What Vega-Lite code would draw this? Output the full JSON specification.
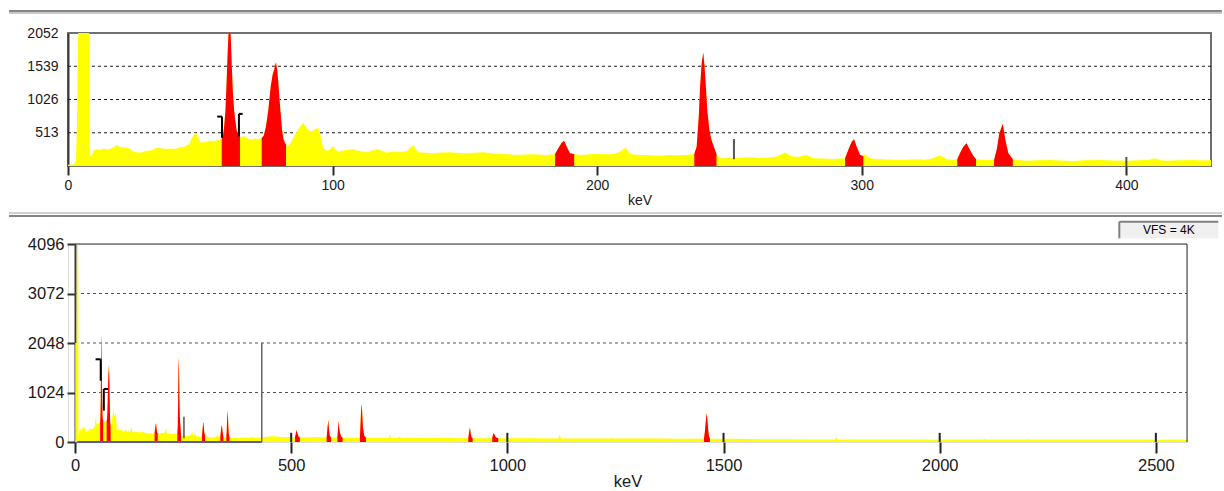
{
  "$schema": "https://vega.github.io/schema/vega-lite/v6.json",
  "padding": {"left": 6, "top": 8, "right": 0, "bottom": 0},
  "background": "#ffffff",
  "config": {
    "font": "Liberation Sans",
    "axis": {
      "labelFont": "Liberation Sans",
      "titleFont": "Liberation Sans",
      "titleFontWeight": "normal",
      "labelColor": "#1a1a1a",
      "titleColor": "#1a1a1a",
      "grid": false,
      "zindex": 1,
      "labelOverlap": false,
      "format": "d"
    }
  },
  "datasets": {
    "spectrum": [
      {"e":0,"c":20,"r":0},{"e":1,"c":22,"r":0},{"e":2,"c":25,"r":0},{"e":3,"c":60,"r":0},{"e":3.5,"c":900,"r":0},
      {"e":4,"c":2600,"r":0},{"e":4.5,"c":4600,"r":0},{"e":5.5,"c":4900,"r":0},{"e":6.5,"c":4500,"r":0},{"e":7.5,"c":3600,"r":0},
      {"e":8,"c":2700,"r":0},{"e":8.2,"c":150,"r":0},{"e":9,"c":165,"r":0},{"e":9.6,"c":240,"r":0},{"e":10.5,"c":255,"r":0},
      {"e":12.1,"c":250,"r":0},{"e":13.5,"c":270,"r":0},{"e":14.6,"c":255,"r":0},{"e":16,"c":265,"r":0},{"e":17.8,"c":300,"r":0},
      {"e":18.4,"c":330,"r":0},{"e":19,"c":300,"r":0},{"e":20.5,"c":290,"r":0},{"e":22.2,"c":285,"r":0},{"e":23.5,"c":262,"r":0},
      {"e":24.7,"c":225,"r":0},{"e":26,"c":212,"r":0},{"e":27.2,"c":205,"r":0},{"e":28.5,"c":220,"r":0},{"e":29.7,"c":235,"r":0},
      {"e":31,"c":240,"r":0},{"e":32.3,"c":250,"r":0},{"e":33.5,"c":285,"r":0},{"e":35,"c":275,"r":0},{"e":37.3,"c":262,"r":0},
      {"e":39,"c":270,"r":0},{"e":40.5,"c":262,"r":0},{"e":42.3,"c":290,"r":0},{"e":43.5,"c":295,"r":0},{"e":44.9,"c":315,"r":0},
      {"e":46,"c":340,"r":0},{"e":46.7,"c":420,"r":0},{"e":48,"c":520,"r":0},{"e":49.3,"c":430,"r":0},{"e":50.2,"c":355,"r":0},
      {"e":51.1,"c":370,"r":0},{"e":52.5,"c":375,"r":0},{"e":53.7,"c":395,"r":0},{"e":55,"c":380,"r":0},{"e":56.5,"c":400,"r":0},
      {"e":57.3,"c":395,"r":0},
      {"e":58.1,"c":420,"r":1},{"e":58.6,"c":470,"r":1},{"e":59,"c":600,"r":1},{"e":59.5,"c":850,"r":1},{"e":59.9,"c":1250,"r":1},
      {"e":60.3,"c":1700,"r":1},{"e":60.7,"c":2080,"r":1},{"e":61.1,"c":2230,"r":1},{"e":61.5,"c":2000,"r":1},{"e":61.9,"c":1550,"r":1},
      {"e":62.3,"c":1150,"r":1},{"e":62.8,"c":850,"r":1},{"e":63.3,"c":680,"r":1},{"e":63.8,"c":540,"r":1},{"e":64.4,"c":480,"r":1},
      {"e":65,"c":450,"r":1},
      {"e":65.6,"c":440,"r":0},{"e":66.5,"c":465,"r":0},{"e":67.5,"c":430,"r":0},{"e":69,"c":410,"r":0},{"e":70.5,"c":425,"r":0},
      {"e":72,"c":415,"r":0},{"e":72.7,"c":430,"r":0},
      {"e":73.2,"c":430,"r":2},{"e":74,"c":470,"r":2},{"e":74.8,"c":600,"r":2},{"e":75.7,"c":860,"r":2},{"e":76.6,"c":1220,"r":2},
      {"e":77.3,"c":1400,"r":2},{"e":78,"c":1500,"r":2},{"e":78.6,"c":1600,"r":2},{"e":79.1,"c":1480,"r":2},{"e":79.5,"c":1280,"r":2},
      {"e":80,"c":1000,"r":2},{"e":80.4,"c":800,"r":2},{"e":80.9,"c":560,"r":2},{"e":81.4,"c":420,"r":2},{"e":82,"c":360,"r":2},
      {"e":82.4,"c":330,"r":2},
      {"e":83,"c":300,"r":0},{"e":83.9,"c":340,"r":0},{"e":85,"c":420,"r":0},{"e":86,"c":500,"r":0},{"e":87.7,"c":607,"r":0},
      {"e":88.9,"c":668,"r":0},{"e":90.2,"c":581,"r":0},{"e":91.5,"c":530,"r":0},{"e":92.5,"c":545,"r":0},{"e":93.3,"c":566,"r":0},
      {"e":94.6,"c":591,"r":0},{"e":95.2,"c":504,"r":0},{"e":96.5,"c":273,"r":0},{"e":97.8,"c":236,"r":0},{"e":99,"c":250,"r":0},
      {"e":100.3,"c":313,"r":0},{"e":101,"c":260,"r":0},{"e":102.2,"c":221,"r":0},{"e":103.8,"c":240,"r":0},{"e":105.3,"c":247,"r":0},
      {"e":107.8,"c":262,"r":0},{"e":110,"c":230,"r":0},{"e":112.9,"c":211,"r":0},{"e":115,"c":240,"r":0},{"e":117.3,"c":257,"r":0},
      {"e":120.4,"c":206,"r":0},{"e":123,"c":225,"r":0},{"e":125.5,"c":211,"r":0},{"e":128,"c":230,"r":0},{"e":130.5,"c":324,"r":0},
      {"e":132.4,"c":211,"r":0},{"e":135,"c":205,"r":0},{"e":138.1,"c":195,"r":0},{"e":141,"c":210,"r":0},{"e":144.4,"c":211,"r":0},
      {"e":147.5,"c":200,"r":0},{"e":150.7,"c":195,"r":0},{"e":154,"c":205,"r":0},{"e":157,"c":211,"r":0},{"e":160,"c":195,"r":0},
      {"e":163.3,"c":185,"r":0},{"e":166.5,"c":180,"r":0},{"e":169.6,"c":170,"r":0},{"e":173,"c":178,"r":0},{"e":175.9,"c":180,"r":0},
      {"e":178.5,"c":172,"r":0},{"e":180.9,"c":170,"r":0},{"e":183,"c":178,"r":0},
      {"e":184.1,"c":185,"r":3},{"e":185.3,"c":273,"r":3},{"e":186.6,"c":360,"r":3},{"e":187.5,"c":389,"r":3},{"e":188.5,"c":298,"r":3},
      {"e":189.7,"c":195,"r":3},{"e":191.3,"c":185,"r":3},
      {"e":193.5,"c":170,"r":0},{"e":196,"c":178,"r":0},{"e":198.5,"c":185,"r":0},{"e":201,"c":185,"r":0},{"e":203.5,"c":180,"r":0},
      {"e":206.1,"c":185,"r":0},{"e":208.5,"c":215,"r":0},{"e":209.9,"c":257,"r":0},{"e":210.9,"c":283,"r":0},{"e":212.4,"c":185,"r":0},
      {"e":215,"c":175,"r":0},{"e":217.4,"c":170,"r":0},{"e":220.5,"c":165,"r":0},{"e":223.7,"c":160,"r":0},{"e":227,"c":168,"r":0},
      {"e":230,"c":165,"r":0},{"e":233,"c":170,"r":0},{"e":235.5,"c":178,"r":0},
      {"e":236.7,"c":185,"r":4},{"e":237.6,"c":298,"r":4},{"e":238.4,"c":761,"r":4},{"e":238.9,"c":1224,"r":4},{"e":239.5,"c":1584,"r":4},
      {"e":240.1,"c":1752,"r":4},{"e":240.6,"c":1532,"r":4},{"e":241.1,"c":1224,"r":4},{"e":241.6,"c":864,"r":4},{"e":242.4,"c":555,"r":4},
      {"e":243.2,"c":401,"r":4},{"e":244.1,"c":298,"r":4},{"e":245.1,"c":185,"r":4},
      {"e":246.4,"c":119,"r":0},{"e":249,"c":125,"r":0},{"e":251.4,"c":119,"r":0},{"e":254.5,"c":128,"r":0},{"e":257.7,"c":134,"r":0},
      {"e":261,"c":125,"r":0},{"e":264,"c":129,"r":0},{"e":267,"c":140,"r":0},{"e":269.1,"c":170,"r":0},{"e":271,"c":211,"r":0},
      {"e":272.9,"c":154,"r":0},{"e":276,"c":140,"r":0},{"e":279.2,"c":170,"r":0},{"e":281.7,"c":119,"r":0},{"e":285,"c":115,"r":0},
      {"e":289.3,"c":108,"r":0},{"e":292,"c":115,"r":0},
      {"e":293.7,"c":119,"r":5},{"e":294.9,"c":247,"r":5},{"e":296.2,"c":375,"r":5},{"e":297.1,"c":412,"r":5},{"e":298.1,"c":298,"r":5},
      {"e":299.4,"c":170,"r":5},{"e":300.6,"c":154,"r":5},
      {"e":301.2,"c":185,"r":0},{"e":303.1,"c":119,"r":0},{"e":305.5,"c":108,"r":0},{"e":308.2,"c":103,"r":0},{"e":311,"c":98,"r":0},
      {"e":314.5,"c":93,"r":0},{"e":317.5,"c":98,"r":0},{"e":320.8,"c":103,"r":0},{"e":324,"c":98,"r":0},{"e":327,"c":119,"r":0},
      {"e":329.5,"c":165,"r":0},{"e":332.1,"c":103,"r":0},{"e":334.5,"c":98,"r":0},
      {"e":336.1,"c":103,"r":6},{"e":337.1,"c":195,"r":6},{"e":338.4,"c":298,"r":6},{"e":339.6,"c":350,"r":6},{"e":340.9,"c":247,"r":6},
      {"e":342.2,"c":154,"r":6},{"e":343.2,"c":103,"r":6},
      {"e":345,"c":95,"r":0},{"e":346.6,"c":93,"r":0},{"e":348.5,"c":95,"r":0},
      {"e":350,"c":93,"r":7},{"e":351,"c":247,"r":7},{"e":352,"c":504,"r":7},{"e":353.3,"c":650,"r":7},{"e":354.3,"c":401,"r":7},
      {"e":355.4,"c":195,"r":7},{"e":357.1,"c":103,"r":7},
      {"e":360,"c":88,"r":0},{"e":362.3,"c":82,"r":0},{"e":366,"c":90,"r":0},{"e":371.1,"c":93,"r":0},{"e":375,"c":85,"r":0},
      {"e":379.9,"c":77,"r":0},{"e":384,"c":88,"r":0},{"e":390,"c":93,"r":0},{"e":395,"c":85,"r":0},{"e":400.1,"c":82,"r":0},
      {"e":405,"c":90,"r":0},{"e":408.5,"c":95,"r":0},{"e":410.8,"c":119,"r":0},{"e":413,"c":90,"r":0},{"e":415.2,"c":82,"r":0},
      {"e":420,"c":88,"r":0},{"e":425.3,"c":93,"r":0},{"e":429,"c":85,"r":0},{"e":432.2,"c":93,"r":0},
      {"e":440,"c":105,"r":0},{"e":450,"c":112,"r":0},{"e":460,"c":118,"r":0},{"e":470,"c":108,"r":0},{"e":480,"c":100,"r":0},
      {"e":490,"c":104,"r":0},{"e":500,"c":98,"r":0},{"e":505,"c":95,"r":0},
      {"e":508.8,"c":95,"r":8},{"e":511,"c":190,"r":8},{"e":512.6,"c":250,"r":8},{"e":514.5,"c":175,"r":8},{"e":517,"c":115,"r":8},{"e":520,"c":95,"r":8},
      {"e":530,"c":100,"r":0},{"e":545,"c":96,"r":0},{"e":560,"c":104,"r":0},{"e":572,"c":95,"r":0},
      {"e":582,"c":95,"r":9},{"e":584,"c":300,"r":9},{"e":585.9,"c":455,"r":9},{"e":587.5,"c":260,"r":9},{"e":589.5,"c":130,"r":9},{"e":592,"c":92,"r":9},
      {"e":600,"c":95,"r":0},
      {"e":607,"c":92,"r":10},{"e":609.5,"c":434,"r":10},{"e":611,"c":300,"r":10},{"e":613,"c":180,"r":10},{"e":616,"c":110,"r":10},{"e":619,"c":90,"r":10},
      {"e":630,"c":92,"r":0},{"e":645,"c":90,"r":0},
      {"e":659,"c":88,"r":11},{"e":661,"c":500,"r":11},{"e":662.5,"c":786,"r":11},{"e":664,"c":650,"r":11},{"e":666,"c":300,"r":11},{"e":669,"c":130,"r":11},{"e":673,"c":86,"r":11},
      {"e":685,"c":88,"r":0},{"e":700,"c":86,"r":0},{"e":715,"c":90,"r":0},{"e":726,"c":85,"r":0},{"e":728,"c":150,"r":0},
      {"e":731,"c":85,"r":0},{"e":745,"c":84,"r":0},{"e":751,"c":115,"r":0},{"e":755,"c":84,"r":0},{"e":775,"c":86,"r":0},
      {"e":800,"c":84,"r":0},{"e":830,"c":85,"r":0},{"e":860,"c":90,"r":0},{"e":870,"c":82,"r":0},{"e":890,"c":80,"r":0},
      {"e":909.7,"c":80,"r":12},{"e":911.5,"c":200,"r":12},{"e":913.5,"c":304,"r":12},{"e":915.5,"c":160,"r":12},{"e":917.5,"c":95,"r":12},{"e":919.7,"c":79,"r":12},
      {"e":930,"c":79,"r":0},{"e":950,"c":78,"r":0},
      {"e":965,"c":78,"r":13},{"e":967.5,"c":180,"r":13},{"e":970,"c":160,"r":13},{"e":972.5,"c":110,"r":13},{"e":975.5,"c":88,"r":13},{"e":979,"c":78,"r":13},
      {"e":1000,"c":78,"r":0},{"e":1050,"c":76,"r":0},{"e":1100,"c":75,"r":0},{"e":1118,"c":75,"r":0},{"e":1121,"c":150,"r":0},
      {"e":1124,"c":75,"r":0},{"e":1160,"c":74,"r":0},{"e":1200,"c":73,"r":0},{"e":1238,"c":72,"r":0},{"e":1240,"c":100,"r":0},
      {"e":1242,"c":72,"r":0},{"e":1300,"c":70,"r":0},{"e":1350,"c":70,"r":0},{"e":1400,"c":68,"r":0},{"e":1440,"c":68,"r":0},
      {"e":1454.7,"c":68,"r":14},{"e":1457,"c":220,"r":14},{"e":1459,"c":430,"r":14},{"e":1460.8,"c":600,"r":14},{"e":1462.5,"c":480,"r":14},
      {"e":1464.5,"c":260,"r":14},{"e":1466.5,"c":120,"r":14},{"e":1468.6,"c":66,"r":14},
      {"e":1500,"c":65,"r":0},{"e":1550,"c":62,"r":0},{"e":1600,"c":58,"r":0},{"e":1650,"c":56,"r":0},{"e":1700,"c":54,"r":0},
      {"e":1758,"c":52,"r":0},{"e":1761,"c":105,"r":0},{"e":1764,"c":52,"r":0},{"e":1800,"c":51,"r":0},{"e":1900,"c":50,"r":0},
      {"e":2000,"c":49,"r":0},{"e":2100,"c":48,"r":0},{"e":2104,"c":62,"r":0},{"e":2108,"c":48,"r":0},{"e":2200,"c":47,"r":0},
      {"e":2204,"c":62,"r":0},{"e":2208,"c":47,"r":0},{"e":2300,"c":46,"r":0},{"e":2400,"c":45,"r":0},{"e":2500,"c":45,"r":0},
      {"e":2572,"c":44,"r":0}
    ]
  },
  "concat": [
    {
      "width": 1143,
      "height": 133,
      "view": {"stroke": "#707070", "strokeWidth": 2},
      "layer": [
        {
          "data": {"values": [{"c": 513}, {"c": 1026}, {"c": 1539}]},
          "mark": {"type": "rule", "color": "#1a1a1a", "strokeWidth": 1, "strokeDash": [3, 3]},
          "encoding": {
            "x": {"datum": 0, "type": "quantitative", "scale": {"domain": [0, 432], "nice": false, "zero": false}},
            "x2": {"datum": 432},
            "y": {"field": "c", "type": "quantitative", "scale": {"domain": [0, 2052], "nice": false}}
          }
        },
        {
          "data": {"name": "spectrum"},
          "mark": {"type": "area", "color": "#ffff00", "clip": true, "interpolate": "linear"},
          "encoding": {
            "x": {
              "field": "e", "type": "quantitative",
              "scale": {"domain": [0, 432], "nice": false, "zero": false},
              "axis": {
                "values": [0, 100, 200, 300, 400], "title": "keV", "domain": false,
                "tickSize": 9, "tickWidth": 2, "tickColor": "#2a2a2a",
                "labelFontSize": 14, "labelPadding": 3, "labelFlush": false,
                "titleFontSize": 14, "titlePadding": 1
              }
            },
            "y": {
              "field": "c", "type": "quantitative", "stack": null,
              "scale": {"domain": [0, 2052], "nice": false},
              "axis": {
                "values": [513, 1026, 1539, 2052], "title": null,
                "domainColor": "#3a3a3a", "domainWidth": 2, "ticks": false,
                "labelPadding": 10, "labelFontSize": 14
              }
            }
          }
        },
        {
          "data": {"name": "spectrum"},
          "transform": [{"filter": "datum.r > 0"}],
          "mark": {"type": "area", "color": "#ff0000", "clip": true, "interpolate": "linear"},
          "encoding": {
            "x": {"field": "e", "type": "quantitative"},
            "y": {"field": "c", "type": "quantitative", "stack": null},
            "detail": {"field": "r", "type": "nominal"}
          }
        },
        {
          "data": {"values": [
            {"e": 56.4, "e2": 58.2, "c": 762, "c2": 762},
            {"e": 58.2, "e2": 58.2, "c": 762, "c2": 435},
            {"e": 64.6, "e2": 64.6, "c": 804, "c2": 456},
            {"e": 64.6, "e2": 66.0, "c": 804, "c2": 804}
          ]},
          "mark": {"type": "rule", "color": "#000000", "strokeWidth": 2},
          "encoding": {
            "x": {"field": "e", "type": "quantitative"},
            "x2": {"field": "e2"},
            "y": {"field": "c", "type": "quantitative"},
            "y2": {"field": "c2"}
          }
        },
        {
          "data": {"values": [
            {"e": 251.7, "e2": 251.7, "c": 105, "c2": 417},
            {"e": 400, "e2": 400, "c": 0, "c2": 139}
          ]},
          "mark": {"type": "rule", "color": "#555555", "strokeWidth": 2},
          "encoding": {
            "x": {"field": "e", "type": "quantitative"},
            "x2": {"field": "e2"},
            "y": {"field": "c", "type": "quantitative"},
            "y2": {"field": "c2"}
          }
        },
        {
          "data": {"values": [{"e": -22.3, "e2": 436.1, "c": 2392}]},
          "mark": {"type": "rule", "color": "#858585", "strokeWidth": 2},
          "encoding": {
            "x": {"field": "e", "type": "quantitative"},
            "x2": {"field": "e2"},
            "y": {"field": "c", "type": "quantitative"}
          }
        },
        {
          "data": {"values": [{"e": -22.3, "e2": 436.1, "c": 2361}]},
          "mark": {"type": "rule", "color": "#c8c8c8", "strokeWidth": 2},
          "encoding": {
            "x": {"field": "e", "type": "quantitative"},
            "x2": {"field": "e2"},
            "y": {"field": "c", "type": "quantitative"}
          }
        }
      ]
    },
    {
      "width": 1119,
      "height": 198,
      "layer": [
        {
          "data": {"values": [{"c": 1024}, {"c": 2048}, {"c": 3072}]},
          "mark": {"type": "rule", "color": "#555555", "strokeWidth": 1.2, "strokeDash": [3, 3]},
          "encoding": {
            "x": {"datum": 0, "type": "quantitative", "scale": {"domain": [-16.19, 2572], "nice": false, "zero": false}},
            "x2": {"datum": 2572},
            "y": {"field": "c", "type": "quantitative", "scale": {"domain": [0, 4096], "nice": false}}
          }
        },
        {
          "data": {"name": "spectrum"},
          "mark": {"type": "area", "color": "#ffff00", "clip": true, "interpolate": "linear"},
          "encoding": {
            "x": {
              "field": "e", "type": "quantitative",
              "scale": {"domain": [-16.19, 2572], "nice": false, "zero": false},
              "axis": {
                "values": [0, 500, 1000, 1500, 2000, 2500], "title": "keV", "domain": false,
                "tickSize": 11, "tickWidth": 2, "tickColor": "#222222",
                "labelFontSize": 16.5, "labelPadding": 4, "labelFlush": false,
                "titleFontSize": 16.5, "titlePadding": 0
              }
            },
            "y": {
              "field": "c", "type": "quantitative", "stack": null,
              "scale": {"domain": [0, 4096], "nice": false},
              "axis": {
                "values": [0, 1024, 2048, 3072, 4096], "title": null, "offset": -7,
                "domainColor": "#3a3a3a", "domainWidth": 2,
                "tickSize": 8, "tickWidth": 2, "tickColor": "#333333",
                "labelPadding": 3, "labelFontSize": 16.5
              }
            }
          }
        },
        {
          "data": {"name": "spectrum"},
          "transform": [{"filter": "datum.r > 0"}],
          "mark": {"type": "area", "color": "#ff0000", "clip": true, "interpolate": "linear"},
          "encoding": {
            "x": {"field": "e", "type": "quantitative"},
            "y": {"field": "c", "type": "quantitative", "stack": null},
            "detail": {"field": "r", "type": "nominal"}
          }
        },
        {
          "data": {"values": [
            {"e": 0, "e2": 2572, "c": 4096, "c2": 4096},
            {"e": 2572, "e2": 2572, "c": 0, "c2": 4096}
          ]},
          "mark": {"type": "rule", "color": "#333333", "strokeWidth": 1},
          "encoding": {
            "x": {"field": "e", "type": "quantitative"},
            "x2": {"field": "e2"},
            "y": {"field": "c", "type": "quantitative"},
            "y2": {"field": "c2"}
          }
        },
        {
          "data": {"values": [{"e": 432, "e2": 432, "c": 0, "c2": 2048}]},
          "mark": {"type": "rule", "color": "#666666", "strokeWidth": 1.5},
          "encoding": {
            "x": {"field": "e", "type": "quantitative"},
            "x2": {"field": "e2"},
            "y": {"field": "c", "type": "quantitative"},
            "y2": {"field": "c2"}
          }
        },
        {
          "data": {"values": [{"e": 0, "e2": 432, "c": 0, "c2": 0}]},
          "mark": {"type": "rule", "color": "#5a5aa8", "strokeWidth": 2},
          "encoding": {
            "x": {"field": "e", "type": "quantitative"},
            "x2": {"field": "e2"},
            "y": {"field": "c", "type": "quantitative"},
            "y2": {"field": "c2"}
          }
        },
        {
          "data": {"values": [{"e": 3, "e2": 3, "c": 0, "c2": 2048}]},
          "mark": {"type": "rule", "color": "#ffff00", "strokeWidth": 2},
          "encoding": {
            "x": {"field": "e", "type": "quantitative"},
            "x2": {"field": "e2"},
            "y": {"field": "c", "type": "quantitative"},
            "y2": {"field": "c2"}
          }
        },
        {
          "data": {"values": [
            {"e": 47.6, "e2": 59.5, "c": 1711, "c2": 1711},
            {"e": 59.5, "e2": 59.5, "c": 1711, "c2": 1268},
            {"e": 66.6, "e2": 66.6, "c": 1097, "c2": 648},
            {"e": 66.6, "e2": 76.3, "c": 1097, "c2": 1097}
          ]},
          "mark": {"type": "rule", "color": "#000000", "strokeWidth": 2},
          "encoding": {
            "x": {"field": "e", "type": "quantitative"},
            "x2": {"field": "e2"},
            "y": {"field": "c", "type": "quantitative"},
            "y2": {"field": "c2"}
          }
        },
        {
          "data": {"values": [{"e": 252, "e2": 252, "c": 77, "c2": 523}]},
          "mark": {"type": "rule", "color": "#555555", "strokeWidth": 1.5},
          "encoding": {
            "x": {"field": "e", "type": "quantitative"},
            "x2": {"field": "e2"},
            "y": {"field": "c", "type": "quantitative"},
            "y2": {"field": "c2"}
          }
        },
        {
          "data": {"values": [{"e": 500}, {"e": 1000}, {"e": 1500}, {"e": 2000}, {"e": 2500}]},
          "mark": {"type": "rule", "color": "#222222", "strokeWidth": 2},
          "encoding": {
            "x": {"field": "e", "type": "quantitative"},
            "y": {"datum": 0, "type": "quantitative"},
            "y2": {"datum": 190}
          }
        },
        {
          "data": {"values": [{"e": -152.7, "e2": 2653, "c": 4737}]},
          "mark": {"type": "rule", "color": "#d0d0d0", "strokeWidth": 2},
          "encoding": {
            "x": {"field": "e", "type": "quantitative"},
            "x2": {"field": "e2"},
            "y": {"field": "c", "type": "quantitative"}
          }
        },
        {
          "data": {"values": [{"e": -152.7, "e2": 2653, "c": 4675}]},
          "mark": {"type": "rule", "color": "#858585", "strokeWidth": 2},
          "encoding": {
            "x": {"field": "e", "type": "quantitative"},
            "x2": {"field": "e2"},
            "y": {"field": "c", "type": "quantitative"}
          }
        },
        {
          "data": {"values": [{"e": 2415.4, "e2": 2644.4, "c": 4214, "c2": 4557}]},
          "mark": {"type": "rect", "color": "#f0f0f0"},
          "encoding": {
            "x": {"field": "e", "type": "quantitative"},
            "x2": {"field": "e2"},
            "y": {"field": "c", "type": "quantitative"},
            "y2": {"field": "c2"}
          }
        },
        {
          "data": {"values": [
            {"e": 2415.4, "e2": 2415.4, "c": 4214, "c2": 4557},
            {"e": 2415.4, "e2": 2644.4, "c": 4557, "c2": 4557}
          ]},
          "mark": {"type": "rule", "color": "#808080", "strokeWidth": 2},
          "encoding": {
            "x": {"field": "e", "type": "quantitative"},
            "x2": {"field": "e2"},
            "y": {"field": "c", "type": "quantitative"},
            "y2": {"field": "c2"}
          }
        },
        {
          "data": {"values": [{"e": 2530, "c": 4380, "label": "VFS = 4K"}]},
          "mark": {"type": "text", "color": "#000000", "fontSize": 12, "align": "center", "baseline": "middle", "font": "Liberation Sans"},
          "encoding": {
            "x": {"field": "e", "type": "quantitative"},
            "y": {"field": "c", "type": "quantitative"},
            "text": {"field": "label"}
          }
        }
      ]
    }
  ],
  "columns": 1,
  "spacing": 3
}
